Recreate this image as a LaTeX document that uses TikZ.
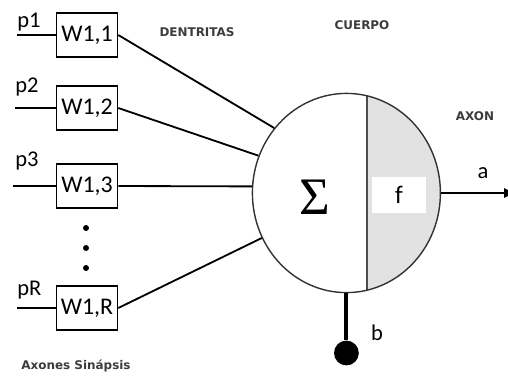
\documentclass[tikz,border=0pt]{standalone}
\usepackage{fontspec}
\setmainfont{Carlito}
\newfontfamily\tagfont{DejaVu Sans}
\newfontfamily\sigmafont{Liberation Serif}
\usetikzlibrary{arrows.meta, positioning, shapes.geometric}
\definecolor{labelgray}{RGB}{60,60,60}
\definecolor{somagray}{RGB}{226,226,226}
\tikzset{
  weight/.style={draw, line width=1.1pt, minimum width=1.525cm, minimum height=1.1cm, inner sep=0pt, font=\fontsize{17}{19}\selectfont},
  input/.style={inner sep=0pt, font=\fontsize{16}{18}\selectfont},
  tag/.style={text=labelgray, font=\tagfont\bfseries\fontsize{8.5}{10}\selectfont},
  wire/.style={line width=1.3pt},
}

\begin{document}
\begin{tikzpicture}
\useasboundingbox (0,0) rectangle (12.7,-9.425);

\begin{scope}
  \clip (8.66,-4.825) ellipse [x radius=2.35, y radius=2.49];
  \fill[somagray] (9.175,-2) rectangle (11.2,-7.5);
  \draw[black!70, line width=1pt] (9.175,-2) -- (9.175,-7.5);
\end{scope}
\node[draw=black!80, line width=1pt, ellipse, minimum width=4.7cm, minimum height=4.98cm, inner sep=0pt] (sum) at (8.66,-4.825) {};
\node[font=\sigmafont\fontsize{37.5}{40}\selectfont] (sigma) at (7.875,-4.925) {Σ};
\node[fill=white, minimum width=1.35cm, minimum height=0.9cm, font=\fontsize{18}{20}\selectfont] (act) at (9.975,-4.875) {f};

\node[weight] (w11) at (2.175,-0.875) {W1,1};
\node[weight] (w12) at (2.175,-2.7) {W1,2};
\node[weight] (w13) at (2.175,-4.65) {W1,3};
\node[weight] (w1R) at (2.175,-7.7) {W1,R};

\coordinate (in1) at (0.425,-0.875);
\coordinate (in2) at (0.375,-2.7);
\coordinate (in3) at (0.325,-4.65);
\coordinate (inR) at (0.425,-7.7);
\node[input, anchor=base west] (p1) at (0.425,-0.675) {p1};
\node[input, anchor=base west] (p2) at (0.375,-2.3) {p2};
\node[input, anchor=base west] (p3) at (0.375,-4.15) {p3};
\node[input, anchor=base west] (pR) at (0.425,-7.375) {pR};

\draw[wire] (in1) -- (w11);
\draw[wire] (in2) -- (w12);
\draw[wire] (in3) -- (w13);
\draw[wire] (inR) -- (w1R);

\foreach \y in {-5.7,-6.2,-6.7}
  \fill (2.15,\y) circle (0.075);

\draw[wire] (w11.east) -- (sum.138);
\draw[wire] (w12.east) -- (sum.157);
\draw[wire] (w13.east) -- (sum.176);
\draw[wire] (w1R.east) -- (sum.208);

\coordinate (out) at (12.9,-4.825);
\draw[wire, -{Latex[length=3mm, width=2.6mm]}] (sum.east) -- (out);
\node[input] (a) at (12.075,-4.325) {a};

\node[circle, fill=black, minimum size=0.62cm, inner sep=0pt] (bias) at (8.66,-8.825) {};
\draw[line width=2.8pt] (sum.south) -- (bias);
\node[input] (b) at (9.425,-8.325) {b};

\node[tag] (dent) at (4.925,-0.8) {DENTRITAS};
\node[tag] (cuerpo) at (9.05,-0.625) {CUERPO};
\node[tag] (axon) at (11.875,-2.9) {AXON};
\node[tag] (sinap) at (1.9,-9.15) {Axones Sinápsis};
\end{tikzpicture}
\end{document}
